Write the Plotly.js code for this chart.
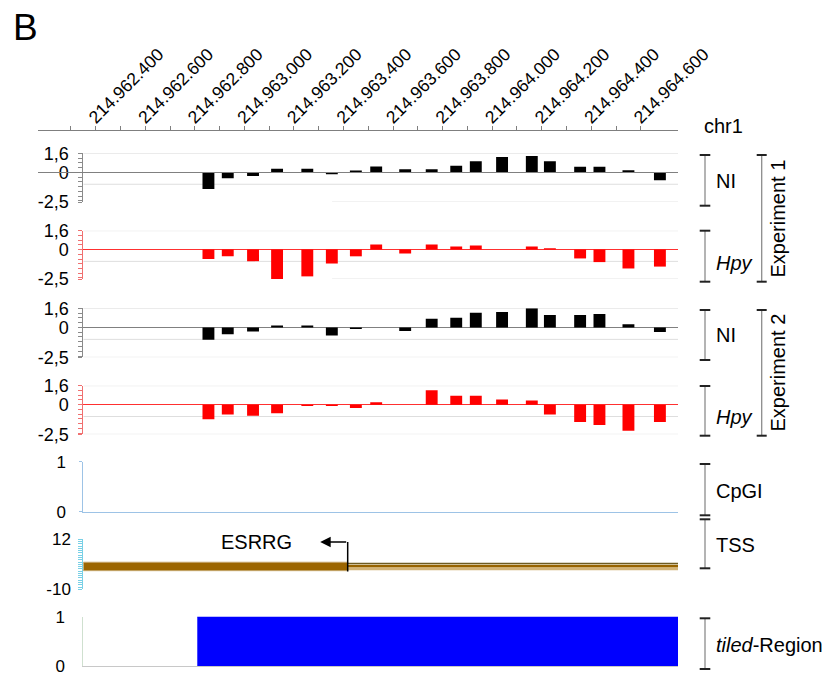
<!DOCTYPE html>
<html>
<head>
<meta charset="utf-8">
<script src="https://cdn.plot.ly/plotly-3.0.1.min.js"></script>
<style>html,body{margin:0;padding:0;background:#fff;}#chart{width:830px;height:675px;}</style>
</head>
<body>
<div id="chart"></div>
<script>
// ---------- data ----------
const viewRange = [214962350, 214964750];          // genomic window of the tracks
const topAxisStart = 214962167;                     // where the chr1 ruler line starts
const rulerLabelPos = [214962400, 214962600, 214962800, 214963000, 214963200, 214963400,
  214963600, 214963800, 214964000, 214964200, 214964400, 214964600];
const rulerLabels = ['214.962.400', '214.962.600', '214.962.800', '214.963.000', '214.963.200', '214.963.400',
  '214.963.600', '214.963.800', '214.964.000', '214.964.200', '214.964.400', '214.964.600'];
const rulerMinorPos = [214962300, 214962500, 214962700, 214962900, 214963100, 214963300,
  214963500, 214963700, 214963900, 214964100, 214964300, 214964500];

const probePos = [214962855, 214962933, 214963035, 214963132, 214963254, 214963353, 214963450,
  214963532, 214963649, 214963756, 214963855, 214963934, 214964040, 214964160, 214964233,
  214964355, 214964433, 214964550, 214964677];
const exp1NI  = [-1.4, -0.5, -0.3, 0.3, 0.3, -0.15, 0.15, 0.5, 0.25, 0.25, 0.55, 0.93, 1.29, 1.38, 0.93, 0.48, 0.48, 0.17, -0.67];
const exp1Hpy = [-0.8, -0.57, -0.98, -2.5, -2.27, -1.18, -0.57, 0.43, -0.34, 0.43, 0.26, 0.34, null, 0.26, 0.11, -0.75, -1.06, -1.6, -1.44];
const exp2NI  = [-1.04, -0.58, -0.35, 0.17, 0.17, -0.67, -0.14, null, -0.29, 0.72, 0.81, 1.22, 1.3, 1.6, 1.04, 1.04, 1.13, 0.26, -0.38];
const exp2Hpy = [-1.22, -0.82, -0.93, -0.73, -0.12, -0.12, -0.29, 0.2, null, 1.22, 0.76, 0.76, 0.44, 0.35, -0.82, -1.46, -1.72, -2.19, -1.46];

const signalTicks = [1.6, 0, -2.5];
const signalTickText = ['1,6', '0', '-2,5'];
const signalGrid = [1.6, -1, -2.5];

const tssPos = 214963417;          // ESRRG transcription start
const tssArrowTip = 214963306;
const tssArrowY = [-2.2, 10.8];
const tssLeftBand = [1.9, -1.8];
const tssRightLines = [1.35, 0.15, -0.95];
const geneLabel = 'ESRRG';
const geneLabelPos = [214963050, 10.6];

const tiledRegion = [214962810, 214964750];

// ---------- layout helpers ----------
const W = 830, H = 675;
const px = x => x / W;
const py = y => 1 - y / H;
const yd = (t, b) => [py(b), py(t)];
const FONT = 'Arial, "Liberation Sans", sans-serif';
const xDom = [px(83.3), px(678)];

function sigAxis(dom, col, zcol) {
  return {
    domain: dom, range: [-2.5, 1.6], anchor: 'x', fixedrange: true,
    tickmode: 'array', tickvals: signalTicks, ticktext: signalTickText,
    ticks: 'outside', ticklen: 4, tickcolor: col, tickwidth: 1,
    showline: true, linecolor: col, linewidth: 1,
    showgrid: false, zeroline: true, zerolinecolor: zcol, zerolinewidth: 1,
    minor: {tickmode: 'linear', tick0: 0, dtick: 0.4, ticks: 'outside', ticklen: 4, tickcolor: col, showgrid: false},
    tickfont: {size: 18, color: '#000', family: FONT}, ticklabelstandoff: 6, ticklabeloverflow: 'allow', automargin: false
  };
}
function plainX(anchor, extra) {
  return Object.assign({domain: xDom, range: viewRange, anchor: anchor, matches: 'x',
    showticklabels: false, ticks: '', showgrid: false, zeroline: false, showline: false, automargin: false}, extra || {});
}

const gray = '#8a8a8a', red = '#f07070';
const smallTickFont = {size: 17, color: '#000', family: FONT};
const layout = {
  width: W, height: H, margin: {l: 0, r: 0, t: 0, b: 0},
  paper_bgcolor: '#fff', plot_bgcolor: 'rgba(0,0,0,0)', showlegend: false,
  separators: ',.', barmode: 'overlay', font: {family: FONT, color: '#000'},
  xaxis: {domain: xDom, range: viewRange, anchor: 'y', showticklabels: false, ticks: '', showgrid: false, zeroline: false, showline: false, automargin: false},
  xaxis2: plainX('y2'), xaxis3: plainX('y3'), xaxis4: plainX('y4'),
  xaxis5: plainX('y5', {showline: true, linecolor: '#9dc3e6'}),
  xaxis6: plainX('y6'),
  xaxis7: plainX('y7', {showline: true, linecolor: '#c8c8c8'}),
  xaxis8: {
    domain: [px(38), px(678)], range: [topAxisStart, viewRange[1]], anchor: 'free', position: py(130), side: 'top',
    tickmode: 'array', tickvals: rulerLabelPos, ticktext: rulerLabels, tickangle: -45,
    ticks: 'outside', ticklen: 4, tickcolor: '#7f7f7f', showline: true, linecolor: '#7f7f7f', linewidth: 1,
    minor: {tickmode: 'array', tickvals: rulerMinorPos, ticks: 'outside', ticklen: 4, tickcolor: '#7f7f7f', showgrid: false},
    tickfont: {size: 17.5, color: '#000', family: FONT}, ticklabelstandoff: -8, ticklabelshift: -6,
    showgrid: false, zeroline: false, automargin: false
  },
  yaxis: sigAxis(yd(153.3, 202.1), gray, '#808080'),
  yaxis2: Object.assign(sigAxis(yd(230.7, 279.1), red, '#ff3030'), {anchor: 'x2'}),
  yaxis3: Object.assign(sigAxis(yd(308.3, 357.3), gray, '#808080'), {anchor: 'x3'}),
  yaxis4: Object.assign(sigAxis(yd(385.7, 434.3), red, '#ff3030'), {anchor: 'x4'}),
  yaxis5: {domain: yd(461.7, 511.7), range: [0, 1], anchor: 'x5', tickmode: 'array', tickvals: [0, 1],
    ticks: 'outside', ticklen: 3, tickcolor: '#9dc3e6', showline: true, linecolor: '#9dc3e6',
    showgrid: true, gridcolor: '#e3e3e3', zeroline: false,
    tickfont: smallTickFont, ticklabelstandoff: 10, ticklabeloverflow: 'allow', automargin: false},
  yaxis6: {domain: yd(539.3, 589.3), range: [-10, 12], anchor: 'x6', tickmode: 'array', tickvals: [12, -10], ticktext: ['12', '-10'],
    ticks: 'outside', ticklen: 4, tickcolor: '#79d0e6', showline: true, linecolor: '#79d0e6',
    minor: {tickmode: 'linear', tick0: 0, dtick: 1, ticks: 'outside', ticklen: 4, tickcolor: '#79d0e6', showgrid: false},
    showgrid: true, gridcolor: '#e3e3e3', zeroline: false,
    tickfont: smallTickFont, ticklabelstandoff: 4, ticklabeloverflow: 'allow', automargin: false},
  yaxis7: {domain: yd(616.7, 666), range: [0, 1], anchor: 'x7', tickmode: 'array', tickvals: [0, 1],
    ticks: '', showline: true, linecolor: '#cfe0cf',
    showgrid: true, gridcolor: '#e3e3e3', zeroline: false,
    tickfont: smallTickFont, ticklabelstandoff: 14, ticklabeloverflow: 'allow', automargin: false},
  shapes: [], annotations: []
};

// gridlines of the signal tracks (bottom line of experiment 1 tracks is partly hidden in the original)
const gridStartP12 = 214963354;
[['x', 'y', true], ['x2', 'y2', true], ['x3', 'y3', false], ['x4', 'y4', false]].forEach(([xa, ya, partial]) => {
  signalGrid.forEach(v => {
    layout.shapes.push({type: 'line', xref: xa, yref: ya, layer: 'below',
      x0: (partial && v === -2.5) ? gridStartP12 : viewRange[0], x1: viewRange[1], y0: v, y1: v,
      line: {color: '#dedede', width: 1}});
  });
});

// right-hand brackets
function bracket(x, y0, y1, capW) {
  layout.shapes.push({type: 'line', xref: 'paper', yref: 'paper', x0: px(x), x1: px(x), y0: py(y0), y1: py(y1), line: {color: '#8c8c8c', width: 1.3}});
  [y0, y1].forEach(y => layout.shapes.push({type: 'line', xref: 'paper', yref: 'paper',
    x0: px(x - capW), x1: px(x + capW), y0: py(y), y1: py(y), line: {color: '#222', width: 2}}));
}
bracket(705, 155, 205.7, 5.3);
bracket(705, 230.7, 281.7, 5.3);
bracket(761.7, 155, 281.7, 5);
bracket(705, 310, 360, 5.3);
bracket(705, 386, 435.7, 5.3);
bracket(761.7, 310, 435.7, 5);
bracket(705, 464, 515.3, 5.3);
bracket(705, 519.3, 568.3, 5.3);
bracket(705, 618.3, 669, 5.3);

function label(text, x, y, size, extra) {
  layout.annotations.push(Object.assign({xref: 'paper', yref: 'paper', x: px(x), y: py(y), text: text,
    showarrow: false, xanchor: 'left', yanchor: 'middle', font: {size: size, color: '#000', family: FONT}}, extra || {}));
}
label('B', 11, 27, 37);
label('chr1', 702, 126, 20);
label('NI', 714, 181, 20);
label('<i>Hpy</i>', 714, 263, 20);
label('NI', 714, 335, 20);
label('<i>Hpy</i>', 714, 416.5, 20);
label('CpGI', 714, 491.5, 20);
label('TSS', 714, 545, 20);
label('<i>tiled</i>-Region', 714, 645, 20);
label('Experiment 1', 777, 218.5, 20, {xanchor: 'center', textangle: -90});
label('Experiment 2', 777, 372.5, 20, {xanchor: 'center', textangle: -90});

// gene label and TSS arrow
layout.annotations.push({xref: 'x6', yref: 'y6', x: geneLabelPos[0], y: geneLabelPos[1], text: geneLabel,
  showarrow: false, xanchor: 'center', yanchor: 'middle', font: {size: 20, color: '#000', family: FONT}});
layout.annotations.push({xref: 'x6', yref: 'y6', x: tssArrowTip, y: tssArrowY[1], axref: 'x6', ayref: 'y6',
  ax: tssPos, ay: tssArrowY[1], text: '', showarrow: true, arrowhead: 2, arrowsize: 1.4, arrowwidth: 1.5,
  arrowcolor: '#000', standoff: 0, startstandoff: 0});

// ---------- traces ----------
const bar = (y, col, xa, ya) => ({type: 'bar', x: probePos, y: y, width: 48, xaxis: xa, yaxis: ya,
  marker: {color: col, line: {width: 0}}, hoverinfo: 'skip'});

const traces = [
  bar(exp1NI, '#000000', 'x', 'y'),
  bar(exp1Hpy, '#ff0000', 'x2', 'y2'),
  bar(exp2NI, '#000000', 'x3', 'y3'),
  bar(exp2Hpy, '#ff0000', 'x4', 'y4'),
  {type: 'scatter', x: [], y: [], xaxis: 'x5', yaxis: 'y5'},
  // TSS track
  {type: 'scatter', mode: 'lines', xaxis: 'x6', yaxis: 'y6', hoverinfo: 'skip',
    x: [viewRange[0], tssPos, tssPos, viewRange[0], viewRange[0]],
    y: [tssLeftBand[0], tssLeftBand[0], tssLeftBand[1], tssLeftBand[1], tssLeftBand[0]],
    fill: 'toself', fillcolor: '#9c6500', line: {color: '#c4a56a', width: 1}},
  {type: 'scatter', mode: 'lines', xaxis: 'x6', yaxis: 'y6', hoverinfo: 'skip',
    x: [tssPos, viewRange[1], viewRange[1], tssPos, tssPos],
    y: [tssRightLines[0], tssRightLines[0], tssRightLines[2] - 0.5, tssRightLines[2] - 0.5, tssRightLines[0]],
    fill: 'toself', fillcolor: '#efe2c0', line: {color: 'rgba(0,0,0,0)', width: 0}},
  {type: 'scatter', mode: 'lines', xaxis: 'x6', yaxis: 'y6', hoverinfo: 'skip',
    x: [tssPos, viewRange[1]], y: [tssRightLines[0], tssRightLines[0]], line: {color: '#6e5b22', width: 1.3}},
  {type: 'scatter', mode: 'lines', xaxis: 'x6', yaxis: 'y6', hoverinfo: 'skip',
    x: [tssPos, viewRange[1]], y: [tssRightLines[1], tssRightLines[1]], line: {color: '#976300', width: 2.5}},
  {type: 'scatter', mode: 'lines', xaxis: 'x6', yaxis: 'y6', hoverinfo: 'skip',
    x: [tssPos, viewRange[1]], y: [tssRightLines[2], tssRightLines[2]], line: {color: '#d3b478', width: 3}},
  {type: 'scatter', mode: 'lines', xaxis: 'x6', yaxis: 'y6', hoverinfo: 'skip', cliponaxis: false,
    x: [tssPos, tssPos], y: tssArrowY, line: {color: '#000', width: 1.5}},
  // tiled region
  {type: 'scatter', mode: 'lines', xaxis: 'x7', yaxis: 'y7', hoverinfo: 'skip',
    x: tiledRegion, y: [1, 1], fill: 'tozeroy', fillcolor: '#0000ff', line: {color: '#0000ff', width: 1}},
  // top ruler
  {type: 'scatter', x: [], y: [], xaxis: 'x8', yaxis: 'y'}
];

Plotly.newPlot('chart', traces, layout, {staticPlot: true, displayModeBar: false});
</script>
</body>
</html>
